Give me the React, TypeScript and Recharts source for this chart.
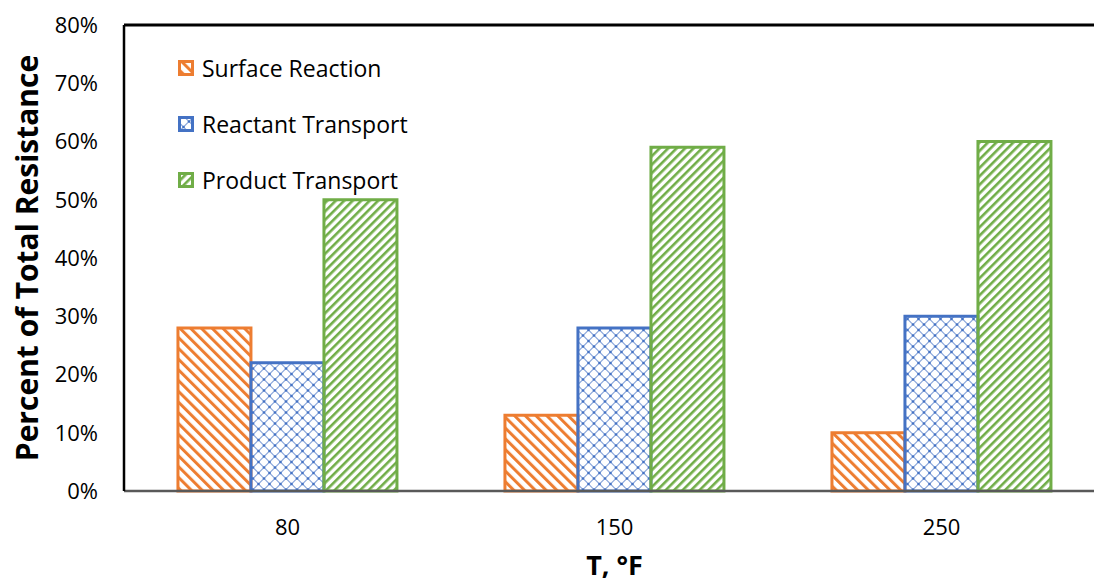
import React from 'react';
import { BarChart, Bar, XAxis, YAxis, Legend, ReferenceLine } from 'recharts';

const categories = ['80', '150', '250'];
const surfaceReaction = [0.28, 0.13, 0.10];
const reactantTransport = [0.22, 0.28, 0.30];
const productTransport = [0.50, 0.59, 0.60];
const yTicks = [0, 0.1, 0.2, 0.3, 0.4, 0.5, 0.6, 0.7, 0.8];
const seriesOrder = ['surface', 'reactant', 'product'];

const data = categories.map((c, i) => ({
  T: c,
  surface: surfaceReaction[i],
  reactant: reactantTransport[i],
  product: productTransport[i],
}));

const FONT = '"Open Sans", "Noto Sans", sans-serif';
const ORANGE = '#ED7D31';
const BLUE = '#4472C4';
const GREEN = '#70AD47';

const patternFor: Record<string, string> = {
  surface: 'url(#patOrange)',
  reactant: 'url(#patBlue)',
  product: 'url(#patGreen)',
};
const colorFor: Record<string, string> = { surface: ORANGE, reactant: BLUE, product: GREEN };

const LegendContent = (props: any) => {
  const payload = [...(props.payload || [])].sort(
    (a: any, b: any) => seriesOrder.indexOf(a.dataKey) - seriesOrder.indexOf(b.dataKey)
  );
  return (
    <div style={{ fontFamily: FONT, fontSize: 23, color: '#000' }}>
      {payload.map((p: any) => (
        <div key={p.dataKey} style={{ display: 'flex', alignItems: 'center', height: 56 }}>
          <svg width={16} height={16} style={{ marginRight: 8 }}>
            <rect x={1.5} y={1.5} width={13} height={13} fill={patternFor[p.dataKey]} stroke={colorFor[p.dataKey]} strokeWidth={3} />
          </svg>
          <span>{p.value}</span>
        </div>
      ))}
    </div>
  );
};

export default function App() {
  return (
    <div style={{ position: 'absolute', left: 0, top: 0, width: 1094, height: 582, overflow: 'hidden', background: '#fff' }}>
      <svg width={0} height={0} style={{ position: 'absolute' }}>
        <defs>
          <pattern id="patOrange" patternUnits="userSpaceOnUse" width={7.6} height={7.6} patternTransform="rotate(-45)">
            <rect x={0} y={0} width={3} height={7.6} fill={ORANGE} />
          </pattern>
          <pattern id="patGreen" patternUnits="userSpaceOnUse" width={6} height={6} patternTransform="rotate(45)">
            <rect x={0} y={0} width={2.6} height={6} fill={GREEN} />
          </pattern>
          <pattern id="patBlue" patternUnits="userSpaceOnUse" width={11} height={11}>
            <path d="M0 5.5 L5.5 0 L11 5.5 L5.5 11 Z" fill="none" stroke="#8FAADC" strokeWidth={1.2} />
            <circle cx={0} cy={5.5} r={1.3} fill={BLUE} />
            <circle cx={11} cy={5.5} r={1.3} fill={BLUE} />
            <circle cx={5.5} cy={0} r={1.3} fill={BLUE} />
            <circle cx={5.5} cy={11} r={1.3} fill={BLUE} />
          </pattern>
        </defs>
      </svg>
      <BarChart
        width={1120}
        height={582}
        data={data}
        margin={{ top: 25, right: 15, bottom: 0, left: 0 }}
        barCategoryGap="16.5%"
        barGap={0}
      >
        <XAxis
          dataKey="T"
          height={91}
          axisLine={{ stroke: '#595959', strokeWidth: 2.5 }}
          tickLine={false}
          tickSize={0}
          tickMargin={28}
          tick={{ fill: '#000', fontSize: 22, fontFamily: FONT }}
          label={{ value: 'T, °F', position: 'insideBottom', offset: 7, fill: '#000', fontSize: 27, fontWeight: 700, fontFamily: FONT }}
        />
        <YAxis
          width={124}
          domain={[0, 0.8]}
          ticks={yTicks}
          interval={0}
          tickFormatter={(v: number) => `${Math.round(v * 100)}%`}
          axisLine={{ stroke: '#000', strokeWidth: 2.5 }}
          tickLine={false}
          tickSize={0}
          tickMargin={26}
          tick={{ fill: '#000', fontSize: 22, fontFamily: FONT }}
          label={{ value: 'Percent of Total Resistance', angle: -90, position: 'center', dx: -35, fill: '#000', fontSize: 30, fontWeight: 700, fontFamily: FONT }}
        />
        <ReferenceLine y={0.8} stroke="#000" strokeWidth={3} />
        <Legend
          layout="vertical"
          align="center"
          verticalAlign="middle"
          content={<LegendContent />}
          wrapperStyle={{ position: 'absolute', left: 178, top: 40, width: 300 }}
        />
        <Bar dataKey="surface" name="Surface Reaction" fill="url(#patOrange)" stroke={ORANGE} strokeWidth={3} isAnimationActive={false} />
        <Bar dataKey="reactant" name="Reactant Transport" fill="url(#patBlue)" stroke={BLUE} strokeWidth={3} isAnimationActive={false} />
        <Bar dataKey="product" name="Product Transport" fill="url(#patGreen)" stroke={GREEN} strokeWidth={3} isAnimationActive={false} />
      </BarChart>
    </div>
  );
}
